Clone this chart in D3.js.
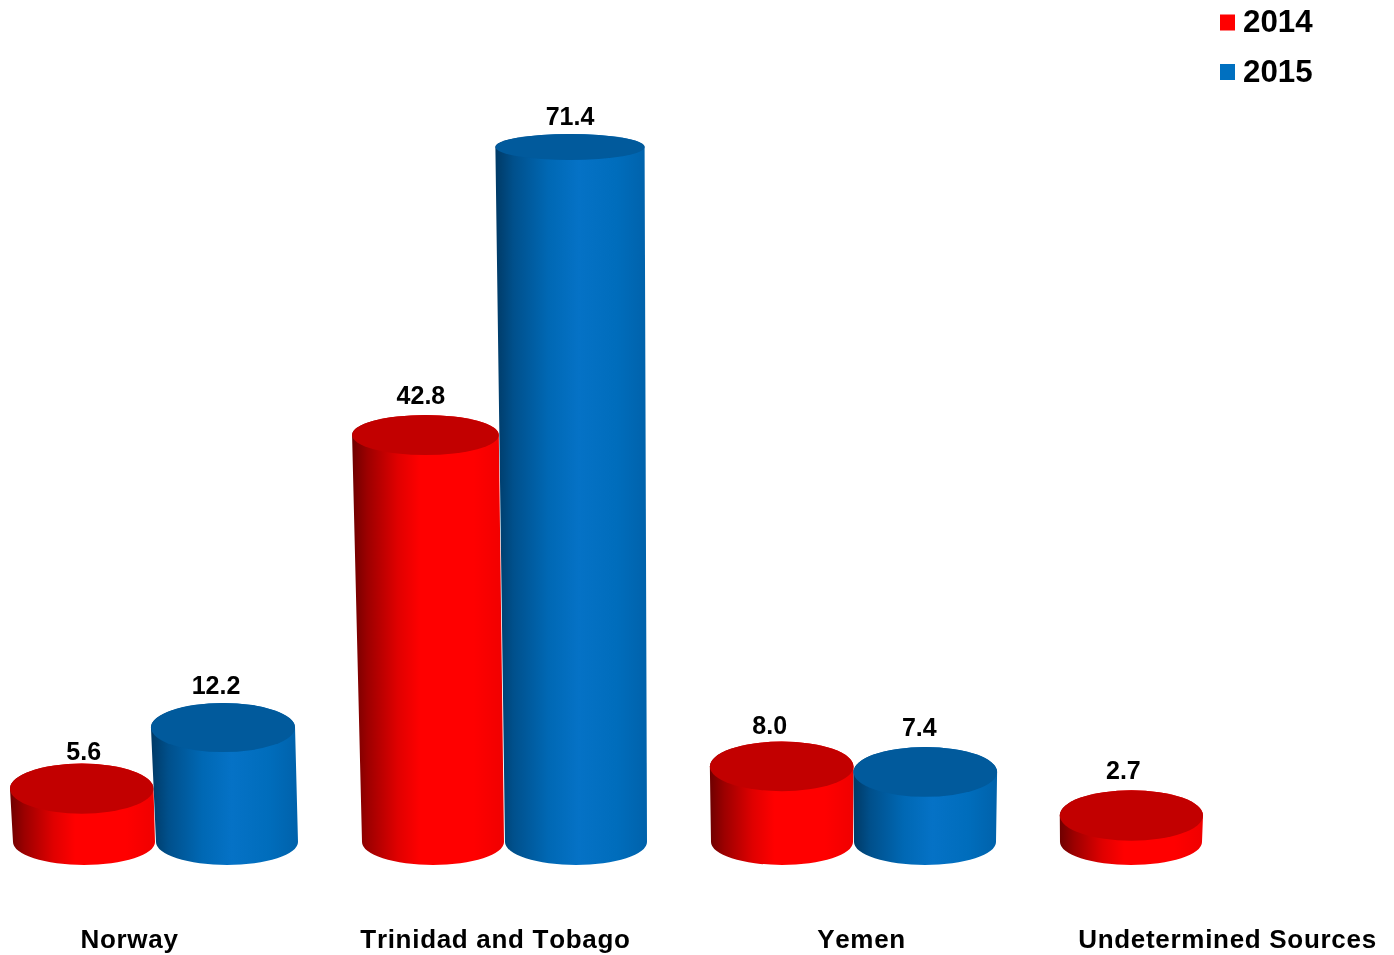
<!DOCTYPE html>
<html>
<head>
<meta charset="utf-8">
<script src="https://cdn.jsdelivr.net/npm/d3@7"></script>
<style>
html,body{margin:0;padding:0;background:#fff;overflow:hidden}
svg{display:block;filter:blur(0.45px)}
text{font-family:"Liberation Sans",Arial,sans-serif;font-weight:700;fill:#000}
</style>
</head>
<body>
<svg id="chart" width="1394" height="955"></svg>
<script>
const categories = ["Norway", "Trinidad and Tobago", "Yemen", "Undetermined Sources"];
const seriesNames = ["2014", "2015"];
const values2014 = [5.6, 42.8, 8.0, 2.7];
const values2015 = [12.2, 71.4, 7.4, null];

// layout: perspective of the 3-D plot
const W = 1394, H = 955;
const baseCy = 842, baseRy = 23, baseRx = 71, vanishX = 853;
const labelNudge = {"2014": [[2,-4],[-4.5,-11],[-12,-8],[-8,-11]], "2015": [[-7,-9],[0,-9],[-6,-11],[0,0]]};

const svg = d3.select("#chart");
const x0 = d3.scaleBand().domain(categories).range([-19, 1377]);
const x1 = d3.scalePoint().domain(seriesNames).range([-71.5, 71.5]);
const labelX = d3.scalePoint().domain(categories).range([129, 1227]);
const topY = d3.scaleLinear().domain([0, 12.2, 42.8, 71.4]).range([815, 703, 415, 134]);
const topRy = d3.scaleLinear().domain([0, 12.2, 42.8, 71.4]).range([25.5, 24.5, 20, 13]);
const topRx = d3.scaleLinear().domain([0, 71.4]).range([71.5, 74.6]);
const skew = d3.scaleLinear().domain([0, 12.2, 42.8, 71.4]).range([0, 0.0064, 0.018, 0.0217]);

const palette = {
  "2014": {top: "#c20000", key: "#ff0000",
    stops: [[0,"#6e0000"],[0.1,"#9c0000"],[0.3,"#e00000"],[0.45,"#ff0000"],[0.8,"#ff0000"],[1,"#f00000"]]},
  "2015": {top: "#015a9c", key: "#0070c0",
    stops: [[0,"#003a66"],[0.12,"#00508c"],[0.35,"#0068b4"],[0.55,"#0572c6"],[0.8,"#006dbc"],[1,"#0062ab"]]}
};

const defs = svg.append("defs");
seriesNames.forEach(s => {
  const g = defs.append("linearGradient").attr("id", "side" + s)
    .attr("x1", 0).attr("x2", 1).attr("y1", 0).attr("y2", 0);
  g.selectAll("stop").data(palette[s].stops).join("stop")
    .attr("offset", d => d[0]).attr("stop-color", d => d[1]);
});

const rows = [];
categories.forEach((c, i) => {
  [values2014[i], values2015[i]].forEach((v, j) => {
    if (v === null) return;
    const s = seriesNames[j];
    const bx = x0(c) + x0.bandwidth() / 2 + x1(s);
    rows.push({c, i, s, v, bx,
      tx: bx + (bx - vanishX) * skew(v),
      trx: topRx(v), try_: topRy(v), ty: topY(v) + topRy(v)});
  });
});

const sidePath = d =>
  `M${d.tx - d.trx},${d.ty}L${d.bx - baseRx},${baseCy}` +
  `A${baseRx},${baseRy} 0 0 0 ${d.bx + baseRx},${baseCy}` +
  `L${d.tx + d.trx},${d.ty}` +
  `A${d.trx},${d.try_} 0 0 0 ${d.tx - d.trx},${d.ty}Z`;

const bars = svg.append("g").selectAll("g").data(rows).join("g");
bars.append("path").attr("d", sidePath).attr("fill", d => `url(#side${d.s})`);
bars.append("ellipse")
  .attr("cx", d => d.tx).attr("cy", d => d.ty)
  .attr("rx", d => d.trx).attr("ry", d => d.try_)
  .attr("fill", d => palette[d.s].top);

svg.append("g").selectAll("text").data(rows).join("text")
  .attr("x", d => d.tx + labelNudge[d.s][d.i][0])
  .attr("y", d => topY(d.v) + labelNudge[d.s][d.i][1])
  .attr("text-anchor", "middle")
  .style("font-size", "25px")
  .text(d => d.v.toFixed(1));

const axis = svg.append("g").attr("transform", "translate(0,924)")
  .call(d3.axisBottom(labelX).tickSize(0).tickPadding(0));
axis.select(".domain").remove();
axis.selectAll("text")
  .attr("dy", "0")
  .attr("y", 24)
  .style("font-size", "26px")
  .style("font-kerning", "none")
  .style("letter-spacing", "0.7px")
  .style("font-family", '"Liberation Sans",Arial,sans-serif')
  .style("font-weight", 700);

const legendY = d3.scalePoint().domain(seriesNames).range([22.5, 72]);
const legend = svg.append("g").selectAll("g").data(seriesNames).join("g")
  .attr("transform", s => `translate(0,${legendY(s)})`);
legend.append("rect").attr("x", 1220).attr("y", -8).attr("width", 15).attr("height", 16)
  .attr("fill", s => palette[s].key);
legend.append("text").attr("x", 1243).attr("y", 9.5)
  .style("font-size", "31.3px").text(s => s);
</script>
</body>
</html>
